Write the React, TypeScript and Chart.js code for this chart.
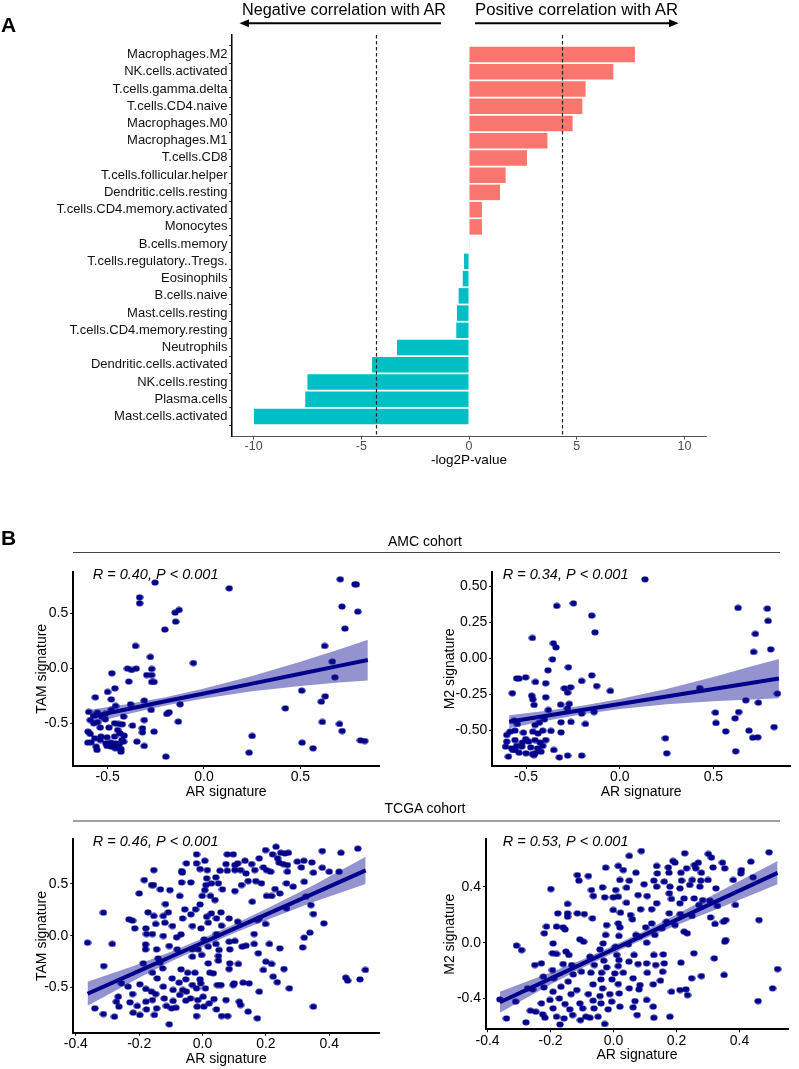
import React, { useEffect, useRef } from "react";
import { Chart, registerables } from "chart.js";

Chart.register(...registerables);

// ---------------- Panel A data ----------------
const cellTypes = [
  "Macrophages.M2", "NK.cells.activated", "T.cells.gamma.delta", "T.cells.CD4.naive",
  "Macrophages.M0", "Macrophages.M1", "T.cells.CD8", "T.cells.follicular.helper",
  "Dendritic.cells.resting", "T.cells.CD4.memory.activated", "Monocytes", "B.cells.memory",
  "T.cells.regulatory..Tregs.", "Eosinophils", "B.cells.naive", "Mast.cells.resting",
  "T.cells.CD4.memory.resting", "Neutrophils", "Dendritic.cells.activated", "NK.cells.resting",
  "Plasma.cells", "Mast.cells.activated",
];
const log2P = [
  7.7, 6.7, 5.41, 5.26, 4.81, 3.64, 2.69, 1.7, 1.44, 0.6, 0.6, 0.03,
  -0.23, -0.29, -0.48, -0.56, -0.59, -3.34, -4.5, -7.5, -7.6, -9.98,
];
const thresholds = [-4.32, 4.32];
const barTicks = [-10, -5, 0, 5, 10];
const barTickLabels = ["-10", "-5", "0", "5", "10"];

// ---------------- Panel B data ----------------
const amcTamPoints: [number, number][] = [
  [-0.254, 0.779], [0.131, 0.727], [0.707, 0.809], [0.783, 0.764], [0.79, 0.762],
  [-0.334, 0.645], [-0.334, 0.591], [-0.15, 0.506], [-0.129, 0.53], [-0.147, 0.424], [-0.203, 0.352],
  [0.716, 0.561], [0.798, 0.515], [0.731, 0.361], [-0.355, 0.203], [0.626, 0.203], [-0.278, 0.103],
  [-0.055, 0.048], [0.666, 0.061], [-0.478, -0.045], [-0.397, -0.003], [-0.376, -0.015], [-0.352, -0.003],
  [-0.271, -0.006], [-0.297, -0.061], [-0.271, -0.061], [0.679, -0.082], [-0.39, -0.121], [-0.271, -0.124],
  [-0.259, -0.124], [-0.462, -0.182], [-0.5, -0.215], [0.507, -0.203], [0.629, -0.255], [-0.481, -0.282],
  [-0.564, -0.264], [-0.459, -0.342], [-0.381, -0.327], [-0.31, -0.294], [-0.124, -0.327], [0.422, -0.364],
  [0.609, -0.303], [-0.598, -0.397], [-0.553, -0.403], [-0.481, -0.379], [-0.417, -0.439], [-0.274, -0.379],
  [-0.193, -0.415], [-0.181, -0.4], [-0.567, -0.43], [-0.59, -0.47], [-0.552, -0.49], [-0.53, -0.44],
  [-0.512, -0.464], [-0.464, -0.5], [-0.443, -0.506], [-0.424, -0.509], [-0.371, -0.521], [-0.31, -0.47],
  [-0.133, -0.485], [0.614, -0.488], [0.703, -0.506], [0.717, -0.57], [-0.602, -0.576], [-0.59, -0.597],
  [-0.538, -0.539], [-0.493, -0.539], [-0.448, -0.561], [-0.436, -0.591], [-0.414, -0.612], [-0.319, -0.545],
  [-0.319, -0.582], [-0.259, -0.576], [0.25, -0.615], [-0.567, -0.636], [-0.534, -0.621], [-0.503, -0.627],
  [-0.464, -0.621], [-0.426, -0.652], [-0.348, -0.667], [-0.603, -0.676], [-0.586, -0.673], [-0.559, -0.712],
  [-0.509, -0.682], [-0.483, -0.676], [-0.457, -0.682], [-0.44, -0.691], [-0.417, -0.667], [-0.503, -0.706],
  [-0.481, -0.712], [-0.46, -0.727], [-0.431, -0.733], [-0.555, -0.742], [-0.431, -0.758], [-0.31, -0.706],
  [0.509, -0.676], [0.566, -0.727], [0.812, -0.655], [0.834, -0.661], [0.234, -0.767], [-0.198, -0.803],
  [-0.572, -0.5], [-0.538, -0.652], [-0.512, -0.415],
];
const amcFitX = [-0.59, -0.4, -0.2, 0, 0.25, 0.5, 0.7, 0.85];
const amcTamFit = [-0.44, -0.372, -0.3, -0.229, -0.139, -0.05, 0.022, 0.075];
const amcTamLo = [-0.503, -0.417, -0.338, -0.274, -0.209, -0.16, -0.128, -0.11];
const amcTamHi = [-0.377, -0.327, -0.262, -0.184, -0.069, 0.06, 0.172, 0.26];

const amcM2Points: [number, number][] = [
  [0.135, 0.547], [-0.336, 0.363], [-0.247, 0.381], [0.632, 0.349], [0.788, 0.344], [-0.149, 0.296],
  [0.792, 0.259], [-0.132, 0.18], [0.724, 0.169], [-0.466, 0.141], [-0.354, 0.104], [-0.34, 0.076],
  [0.715, 0.044], [0.806, 0.062], [-0.359, -0.007], [-0.274, -0.062], [-0.383, -0.083], [-0.55, -0.139],
  [-0.537, -0.141], [-0.502, -0.132], [-0.45, -0.164], [-0.395, -0.173], [-0.203, -0.157], [-0.149, -0.118],
  [-0.123, -0.192], [-0.295, -0.208], [-0.262, -0.201], [-0.05, -0.226], [0.427, -0.206], [-0.573, -0.242],
  [-0.47, -0.259], [-0.464, -0.284], [-0.395, -0.27], [-0.278, -0.238], [0.842, -0.245], [-0.457, -0.323],
  [-0.269, -0.316], [-0.315, -0.321], [0.673, -0.291], [0.74, -0.307], [-0.381, -0.358], [-0.279, -0.346],
  [-0.137, -0.372], [-0.203, -0.383], [0.511, -0.376], [0.635, -0.372], [-0.564, -0.432], [-0.546, -0.455],
  [-0.452, -0.462], [-0.429, -0.446], [-0.402, -0.423], [-0.313, -0.443], [-0.26, -0.441], [-0.183, -0.455],
  [0.514, -0.448], [0.616, -0.416], [-0.603, -0.531], [-0.585, -0.508], [-0.559, -0.501], [-0.514, -0.515],
  [-0.464, -0.508], [-0.436, -0.52], [-0.411, -0.501], [-0.367, -0.503], [-0.313, -0.513], [0.566, -0.506],
  [0.824, -0.476], [0.69, -0.501], [-0.603, -0.577], [-0.559, -0.566], [-0.52, -0.584], [-0.502, -0.559],
  [-0.486, -0.577], [-0.452, -0.566], [-0.425, -0.584], [-0.395, -0.566], [-0.609, -0.612], [-0.577, -0.624],
  [-0.55, -0.607], [-0.523, -0.612], [-0.475, -0.617], [-0.438, -0.624], [-0.411, -0.607], [-0.571, -0.635],
  [-0.537, -0.654], [-0.5, -0.658], [-0.466, -0.663], [-0.452, -0.658], [-0.42, -0.647], [-0.594, -0.681],
  [-0.559, -0.635], [-0.352, -0.635], [-0.457, -0.67], [-0.322, -0.686], [-0.278, -0.674], [-0.203, -0.674],
  [0.244, -0.554], [0.251, -0.658], [0.619, -0.644], [0.737, -0.547], [0.71, -0.55],
];
const amcM2Fit = [-0.44, -0.4, -0.358, -0.317, -0.265, -0.213, -0.171, -0.14];
const amcM2Lo = [-0.485, -0.435, -0.387, -0.352, -0.318, -0.297, -0.286, -0.277];
const amcM2Hi = [-0.395, -0.365, -0.329, -0.282, -0.212, -0.129, -0.056, -0.005];

const tcgaTamPoints: [number, number][] = [
  [0.232, 0.858], [0.49, 0.84], [0.199, 0.826], [0.378, 0.817], [0.437, 0.8], [-0.019, 0.785], [0.078, 0.785],
  [0.097, 0.785], [0.221, 0.785], [0.247, 0.8], [0.26, 0.794], [0.271, 0.8], [0.179, 0.746], [0.007, 0.723],
  [0.134, 0.723], [0.237, 0.746], [0.299, 0.714], [0.32, 0.723], [0.345, 0.707], [-0.051, 0.698], [-0.019, 0.698],
  [0.074, 0.691], [0.102, 0.682], [0.111, 0.698], [0.155, 0.691], [0.242, 0.704], [0.255, 0.691], [0.268, 0.682],
  [-0.008, 0.643], [0.015, 0.633], [0.102, 0.633], [0.12, 0.633], [0.165, 0.633], [0.192, 0.659], [0.202, 0.633],
  [0.312, 0.659], [0.378, 0.656], [-0.154, 0.633], [-0.066, 0.624], [-0.064, 0.608], [0.055, 0.627], [0.078, 0.627],
  [0.137, 0.601], [0.215, 0.617], [0.268, 0.617], [0.35, 0.608], [0.4, 0.617], [0.431, 0.617], [0.042, 0.563],
  [0.013, 0.553], [-0.066, 0.514], [-0.037, 0.514], [0.028, 0.505], [0.05, 0.505], [0.144, 0.527], [0.168, 0.527],
  [0.186, 0.505], [0.265, 0.505], [0.286, 0.473], [0.321, 0.521], [-0.184, 0.537], [-0.161, 0.489], [-0.155, 0.489],
  [0.011, 0.489], [0.123, 0.489], [0.063, 0.447], [0.007, 0.44], [-0.133, 0.447], [-0.103, 0.44], [-0.2, 0.408],
  [-0.001, 0.383], [0.025, 0.383], [0.102, 0.431], [0.229, 0.45], [0.202, 0.383], [0.218, 0.383], [0.244, 0.408],
  [0.326, 0.376], [0.342, 0.296], [-0.072, 0.383], [0.039, 0.344], [0.157, 0.328], [-0.117, 0.305], [-0.008, 0.302],
  [-0.056, 0.254], [-0.172, 0.225], [-0.313, 0.222], [-0.108, 0.225], [-0.022, 0.254], [0.058, 0.225], [0.028, 0.215],
  [0.265, 0.264], [0.35, 0.209], [-0.232, 0.158], [-0.221, 0.145], [-0.154, 0.19], [-0.124, 0.19], [-0.063, 0.167],
  [-0.037, 0.206], [0.013, 0.183], [0.084, 0.167], [0.179, 0.167], [0.044, 0.167], [0.018, 0.125], [-0.148, 0.113],
  [-0.119, 0.125], [-0.095, 0.093], [-0.032, 0.093], [0.06, 0.096], [0.111, 0.135], [0.199, 0.113], [0.173, 0.151],
  [0.383, 0.119], [-0.214, 0.071], [-0.179, 0.071], [-0.005, 0.071], [-0.177, 0.016], [-0.158, 0.016], [-0.124, -0.003],
  [-0.068, 0.013], [0.044, 0.016], [0.163, 0.016], [0.339, 0.029], [0.321, -0.019], [-0.363, -0.068], [-0.285, -0.08],
  [-0.18, -0.084], [-0.082, -0.016], [0.005, -0.035], [0.084, -0.058], [0.102, -0.051], [0.137, -0.096], [0.163, -0.08],
  [0.211, -0.08], [0.244, -0.122], [0.316, -0.113], [-0.18, -0.132], [-0.145, -0.132], [-0.105, -0.1], [-0.08, -0.132],
  [-0.032, -0.132], [-0.014, -0.132], [0.018, -0.106], [0.042, -0.08], [0.052, -0.138], [0.086, -0.132], [0.125, -0.106],
  [-0.032, -0.203], [-0.003, -0.186], [0.05, -0.196], [0.176, -0.17], [-0.14, -0.219], [-0.312, -0.293], [-0.187, -0.267],
  [-0.135, -0.26], [0.018, -0.267], [0.05, -0.241], [0.086, -0.267], [0.113, -0.273], [0.2, -0.251], [0.218, -0.273],
  [-0.126, -0.315], [-0.068, -0.325], [-0.158, -0.357], [-0.047, -0.357], [-0.024, -0.357], [0.023, -0.357], [0.084, -0.322],
  [0.192, -0.331], [0.257, -0.322], [-0.143, -0.412], [-0.096, -0.412], [-0.053, -0.421], [-0.008, -0.421], [0.034, -0.363],
  [0.223, -0.395], [0.236, -0.449], [-0.235, -0.492], [-0.198, -0.469], [-0.074, -0.453], [-0.032, -0.476], [-0.006, -0.46],
  [0.047, -0.476], [0.058, -0.476], [0.1, -0.46], [0.128, -0.453], [0.147, -0.46], [0.274, -0.508], [0.452, -0.405],
  [0.458, -0.434], [0.497, -0.421], [0.514, -0.331], [-0.256, -0.46], [-0.179, -0.514], [-0.161, -0.54], [-0.124, -0.492],
  [-0.093, -0.524], [-0.063, -0.524], [-0.051, -0.54], [-0.019, -0.508], [0.009, -0.508], [0.097, -0.476], [0.179, -0.54],
  [-0.266, -0.588], [-0.221, -0.563], [-0.148, -0.563], [-0.121, -0.605], [-0.072, -0.572], [-0.038, -0.605], [0.002, -0.588],
  [0.036, -0.611], [0.074, -0.621], [0.116, -0.637], [-0.272, -0.637], [-0.229, -0.643], [-0.179, -0.637], [-0.158, -0.621],
  [-0.093, -0.63], [-0.053, -0.627], [-0.015, -0.621], [0.021, -0.653], [0.12, -0.669], [0.35, -0.685], [-0.34, -0.701],
  [-0.264, -0.685], [-0.206, -0.678], [-0.177, -0.711], [-0.145, -0.701], [-0.114, -0.678], [-0.084, -0.695], [-0.017, -0.685],
  [0.004, -0.685], [0.044, -0.711], [-0.219, -0.743], [-0.198, -0.765], [-0.152, -0.765], [-0.098, -0.701], [0.144, -0.733],
  [-0.313, -0.756], [-0.278, -0.781], [-0.019, -0.775], [0.06, -0.775], [0.079, -0.775], [0.173, -0.797], [-0.105, -0.855],
];
const tcgaTamFitX = [-0.363, -0.2, -0.1, 0, 0.1, 0.2, 0.35, 0.515];
const tcgaTamFit = [-0.56, -0.339, -0.203, -0.068, 0.068, 0.203, 0.406, 0.63];
const tcgaTamLo = [-0.675, -0.405, -0.25, -0.108, 0.025, 0.148, 0.325, 0.498];
const tcgaTamHi = [-0.444, -0.273, -0.156, -0.028, 0.111, 0.258, 0.487, 0.762];

const tcgaM2Points: [number, number][] = [
  [0.088, 0.656], [0.226, 0.64], [0.494, 0.647], [0.301, 0.635], [0.311, 0.609], [0.05, 0.621], [0.436, 0.58],
  [0.189, 0.585], [0.195, 0.573], [0.269, 0.573], [0.346, 0.573], [0.015, 0.549], [-0.025, 0.537], [0.137, 0.549],
  [0.174, 0.539], [0.232, 0.532], [0.257, 0.556], [0.261, 0.532], [0.316, 0.539], [0.353, 0.532], [0.406, 0.52],
  [0.031, 0.52], [0.071, 0.501], [0.139, 0.496], [-0.115, 0.484], [-0.08, 0.477], [0.176, 0.501], [0.214, 0.501],
  [0.279, 0.501], [0.404, 0.496], [0.443, 0.468], [-0.11, 0.444], [0.02, 0.449], [0.05, 0.444], [0.128, 0.444],
  [0.161, 0.437], [0.216, 0.444], [0.25, 0.449], [0.277, 0.444], [0.3, 0.449], [0.38, 0.449], [0.097, 0.418],
  [0.137, 0.401], [0.179, 0.401], [0.211, 0.389], [0.242, 0.413], [0.274, 0.401], [0.325, 0.389], [-0.199, 0.384],
  [-0.07, 0.377], [-0.035, 0.396], [0.007, 0.377], [0.041, 0.394], [-0.064, 0.334], [-0.028, 0.325], [-0.001, 0.325],
  [0.015, 0.329], [0.078, 0.341], [0.107, 0.334], [0.177, 0.353], [0.184, 0.313], [0.224, 0.317], [0.256, 0.317],
  [0.283, 0.305], [0.306, 0.301], [-0.146, 0.277], [0.041, 0.286], [0.137, 0.282], [0.211, 0.282], [0.271, 0.27],
  [0.387, 0.27], [0.33, 0.263], [-0.177, 0.21], [-0.146, 0.21], [-0.115, 0.21], [-0.093, 0.205], [-0.001, 0.234],
  [0.022, 0.215], [0.054, 0.198], [0.086, 0.239], [0.121, 0.239], [0.177, 0.21], [0.212, 0.205], [0.249, 0.191],
  [0.308, 0.181], [0.356, 0.162], [0.462, 0.162], [-0.146, 0.186], [-0.067, 0.174], [0.06, 0.167], [0.121, 0.138],
  [0.168, 0.15], [0.195, 0.126], [0.322, 0.134], [0.349, 0.15], [-0.213, 0.115], [-0.181, 0.115], [-0.16, 0.11],
  [-0.022, 0.126], [0.015, 0.138], [0.02, 0.11], [0.102, 0.11], [0.154, 0.103], [0.224, 0.079], [-0.22, 0.067],
  [-0.154, 0.095], [-0.025, 0.055], [0.017, 0.048], [0.071, 0.055], [0.081, 0.043], [0.131, 0.055], [0.234, 0.067],
  [-0.107, 0.024], [-0.192, -0.005], [-0.095, 0.007], [-0.033, -0.005], [0.105, 0], [0.353, 0.007], [0.356, 0.019],
  [-0.308, -0.021], [-0.292, -0.053], [-0.194, -0.076], [-0.181, -0.081], [-0.151, -0.064], [-0.043, -0.048], [0.006, -0.029],
  [0.047, -0.012], [0.01, -0.088], [0.065, -0.088], [0.128, -0.088], [0.158, -0.084], [0.255, -0.076], [0.32, -0.112],
  [-0.142, -0.088], [-0.075, -0.1], [-0.031, -0.129], [0.017, -0.124], [0.049, -0.136], [0.105, -0.148], [0.214, -0.143],
  [-0.25, -0.16], [-0.229, -0.148], [-0.16, -0.153], [-0.133, -0.16], [-0.061, -0.16], [-0.022, -0.177], [0.015, -0.167],
  [0.078, -0.153], [0.134, -0.16], [0.161, -0.148], [-0.194, -0.196], [-0.102, -0.208], [-0.072, -0.215], [-0.038, -0.215],
  [0.004, -0.22], [0.031, -0.215], [0.107, -0.215], [0.156, -0.208], [0.279, -0.239], [0.351, -0.231], [-0.223, -0.243],
  [-0.19, -0.255], [-0.128, -0.227], [-0.04, -0.263], [-0.005, -0.263], [0.062, -0.255], [0.149, -0.272], [0.248, -0.255],
  [-0.144, -0.279], [-0.065, -0.298], [0.015, -0.296], [0.084, -0.303], [0.126, -0.298], [-0.273, -0.327], [-0.257, -0.334],
  [-0.221, -0.32], [-0.167, -0.315], [-0.117, -0.339], [-0.035, -0.327], [0.05, -0.327], [0.081, -0.334], [0.211, -0.339],
  [0.23, -0.334], [0.235, -0.375], [0.184, -0.351], [0.505, -0.327], [0.521, -0.189], [-0.361, -0.406], [-0.311, -0.422],
  [-0.192, -0.351], [-0.135, -0.368], [-0.08, -0.368], [-0.043, -0.382], [-0.012, -0.368], [0.018, -0.363], [0.105, -0.41],
  [0.459, -0.418], [-0.229, -0.434], [-0.202, -0.41], [-0.172, -0.399], [-0.154, -0.439], [-0.107, -0.434], [-0.065, -0.415],
  [-0.04, -0.434], [-0.006, -0.422], [0.068, -0.418], [-0.264, -0.487], [-0.247, -0.494], [-0.192, -0.47], [-0.139, -0.477],
  [-0.098, -0.47], [-0.062, -0.47], [-0.017, -0.477], [0.02, -0.458], [0.062, -0.463], [0.126, -0.458], [-0.225, -0.513],
  [-0.181, -0.53], [-0.13, -0.518], [-0.088, -0.53], [-0.049, -0.53], [0.075, -0.518], [0.179, -0.53], [0.128, -0.537],
  [-0.34, -0.542], [-0.278, -0.57], [-0.218, -0.537], [-0.157, -0.542], [-0.17, -0.585], [-0.075, -0.537], [-0.028, -0.582],
  [-0.105, -0.554],
];
const tcgaM2FitX = [-0.361, -0.2, -0.1, 0, 0.1, 0.2, 0.35, 0.521];
const tcgaM2Fit = [-0.426, -0.257, -0.152, -0.047, 0.058, 0.163, 0.321, 0.5];
const tcgaM2Lo = [-0.501, -0.3, -0.182, -0.073, 0.03, 0.125, 0.26, 0.418];
const tcgaM2Hi = [-0.351, -0.214, -0.122, -0.021, 0.086, 0.201, 0.382, 0.585];

const amcXTicks = [-0.5, 0, 0.5];
const amcXTickLabels = ["-0.5", "0.0", "0.5"];
const amcTamYTicks = [-0.5, 0, 0.5];
const amcTamYTickLabels = ["-0.5", "0.0", "0.5"];
const amcM2YTicks = [-0.5, -0.25, 0, 0.25, 0.5];
const amcM2YTickLabels = ["-0.50", "-0.25", "0.00", "0.25", "0.50"];
const tcgaXTicks = [-0.4, -0.2, 0, 0.2, 0.4];
const tcgaXTickLabels = ["-0.4", "-0.2", "0.0", "0.2", "0.4"];
const tcgaTamYTicks = [-0.5, 0, 0.5];
const tcgaTamYTickLabels = ["-0.5", "0.0", "0.5"];
const tcgaM2YTicks = [-0.4, 0, 0.4];
const tcgaM2YTickLabels = ["-0.4", "0.0", "0.4"];

const SANS = '"Liberation Sans", Arial, Helvetica, sans-serif';
const POS_COLOR = "#F8766D";
const NEG_COLOR = "#00BFC4";
const DOT_COLOR = "#00008B";
const BAND_COLOR = "rgba(20,20,150,0.46)";

// ---------------- Panel A chart ----------------
function BarPanel() {
  const ref = useRef<HTMLCanvasElement | null>(null);
  const W = 720, H = 480;
  const area = { l: 232, t: 35, r: 706, b: 436 };
  useEffect(() => {
    const extras = {
      id: "barExtras",
      afterDatasetsDraw(chart: any) {
        const { ctx, chartArea: a, scales } = chart;
        ctx.save();
        ctx.strokeStyle = "#222";
        ctx.lineWidth = 1.2;
        ctx.setLineDash([3.5, 2.5]);
        thresholds.forEach((t) => {
          const x = Math.round(scales.x.getPixelForValue(t)) + 0.5;
          ctx.beginPath();
          ctx.moveTo(x, a.top);
          ctx.lineTo(x, a.bottom);
          ctx.stroke();
        });
        ctx.restore();
      },
      afterDraw(chart: any) {
        const { ctx, chartArea: a } = chart;
        ctx.save();
        ctx.fillStyle = "#000";
        ctx.font = `13.5px ${SANS}`;
        ctx.textAlign = "center";
        ctx.textBaseline = "middle";
        ctx.fillText("-log2P-value", (a.left + a.right) / 2, 460);
        ctx.restore();
      },
    };
    const chart = new Chart(ref.current as HTMLCanvasElement, {
      type: "bar",
      data: {
        datasets: [
          {
            data: log2P.map((v, i) => ({ x: v, y: i })) as any,
            backgroundColor: log2P.map((v) => (v > 0 ? POS_COLOR : NEG_COLOR)),
            borderWidth: 0,
            barPercentage: 0.9,
            categoryPercentage: 1,
          },
        ],
      },
      options: {
        indexAxis: "y",
        animation: false,
        responsive: false,
        maintainAspectRatio: false,
        layout: { padding: { top: area.t, right: W - area.r, left: 0, bottom: 0 } },
        plugins: { legend: { display: false }, tooltip: { enabled: false } },
        scales: {
          x: {
            type: "linear",
            min: -11,
            max: 11,
            afterFit: (s: any) => {
              s.height = H - area.b;
            },
            afterBuildTicks: (s: any) => {
              s.ticks = barTicks.map((v) => ({ value: v }));
            },
            ticks: {
              callback: (v: any) => barTickLabels[barTicks.indexOf(Number(v))],
              font: { family: SANS, size: 12.5 },
              color: "#4D4D4D",
              padding: 0,
              maxRotation: 0,
              autoSkip: false,
            },
            grid: { display: true, drawOnChartArea: false, drawTicks: true, tickLength: 3.5, color: "#555" },
            border: { display: true, color: "#555", width: 1 },
          },
          y: {
            type: "linear",
            min: -0.6,
            max: cellTypes.length - 1 + 0.6,
            reverse: true,
            afterFit: (s: any) => {
              s.width = area.l;
            },
            afterBuildTicks: (s: any) => {
              s.ticks = cellTypes.map((_, i) => ({ value: i }));
            },
            ticks: {
              callback: (v: any) => cellTypes[Number(v)],
              font: { family: SANS, size: 13 },
              color: "#111",
              padding: 1.5,
              autoSkip: false,
            },
            grid: { display: true, drawOnChartArea: false, drawTicks: true, tickLength: 3, color: "#333" },
            border: { display: true, color: "#000", width: 1.5 },
          },
        },
      } as any,
      plugins: [extras],
    });
    return () => chart.destroy();
  }, []);
  return (
    <canvas
      ref={ref}
      width={W}
      height={H}
      style={{ position: "absolute", left: 0, top: 0, width: W, height: H }}
    />
  );
}

// ---------------- Panel B scatter ----------------
type ScatterProps = {
  left: number;
  top: number;
  width: number;
  height: number;
  area: { l: number; t: number; r: number; b: number };
  xRange: [number, number];
  yRange: [number, number];
  xTicks: number[];
  xTickLabels: string[];
  yTicks: number[];
  yTickLabels: string[];
  points: [number, number][];
  fitX: number[];
  fit: number[];
  lo: number[];
  hi: number[];
  stat: string;
  statX: number;
  xTitle: string;
  yTitle: string;
  yTitleX: number;
};

function ScatterPanel(p: ScatterProps) {
  const ref = useRef<HTMLCanvasElement | null>(null);
  useEffect(() => {
    const dot = document.createElement("canvas");
    dot.width = 8;
    dot.height = 7;
    const dctx = dot.getContext("2d") as CanvasRenderingContext2D;
    dctx.fillStyle = DOT_COLOR;
    dctx.beginPath();
    dctx.ellipse(4, 3.5, 3.6, 2.95, 0, 0, Math.PI * 2);
    dctx.fill();

    const textPlugin = {
      id: "scatterText",
      afterDraw(chart: any) {
        const { ctx, chartArea: a } = chart;
        ctx.save();
        ctx.fillStyle = "#000";
        ctx.textBaseline = "middle";
        ctx.textAlign = "left";
        ctx.font = `italic 14.5px ${SANS}`;
        ctx.fillText(p.stat, p.statX - p.left, a.top + 3);
        ctx.font = `14px ${SANS}`;
        ctx.textAlign = "center";
        ctx.fillText(p.xTitle, (a.left + a.right) / 2, a.bottom + 26);
        ctx.translate(p.yTitleX - p.left, (a.top + a.bottom) / 2);
        ctx.rotate(-Math.PI / 2);
        ctx.fillText(p.yTitle, 0, 0);
        ctx.restore();
      },
    };

    const axisCommon = {
      type: "linear",
      grid: { display: true, drawOnChartArea: false, drawTicks: true, tickLength: 3, color: "#000", lineWidth: 1 },
      border: { display: true, color: "#000", width: 2 },
    };

    const chart = new Chart(ref.current as HTMLCanvasElement, {
      type: "scatter",
      data: {
        datasets: [
          {
            type: "line",
            data: p.fitX.map((x, i) => ({ x, y: p.hi[i] })),
            borderWidth: 0,
            borderColor: "rgba(0,0,0,0)",
            pointRadius: 0,
            fill: false,
            order: 2,
          },
          {
            type: "line",
            data: p.fitX.map((x, i) => ({ x, y: p.lo[i] })),
            borderWidth: 0,
            borderColor: "rgba(0,0,0,0)",
            pointRadius: 0,
            fill: "-1",
            backgroundColor: BAND_COLOR,
            order: 2,
          },
          {
            type: "line",
            data: p.fitX.map((x, i) => ({ x, y: p.fit[i] })),
            borderColor: DOT_COLOR,
            borderWidth: 4,
            pointRadius: 0,
            fill: false,
            order: 1,
          },
          {
            type: "scatter",
            data: p.points.map(([x, y]) => ({ x, y })),
            pointStyle: dot,
            pointRadius: 3.5,
            backgroundColor: DOT_COLOR,
            borderWidth: 0,
            order: 3,
          },
        ],
      } as any,
      options: {
        animation: false,
        responsive: false,
        maintainAspectRatio: false,
        layout: {
          padding: { top: p.area.t - p.top, right: p.left + p.width - p.area.r, left: 0, bottom: 0 },
        },
        plugins: { legend: { display: false }, tooltip: { enabled: false } },
        scales: {
          x: {
            ...axisCommon,
            min: p.xRange[0],
            max: p.xRange[1],
            afterFit: (s: any) => {
              s.height = p.top + p.height - p.area.b;
            },
            afterBuildTicks: (s: any) => {
              s.ticks = p.xTicks.map((v) => ({ value: v }));
            },
            ticks: {
              callback: (v: any) => p.xTickLabels[p.xTicks.indexOf(Number(v))],
              font: { family: SANS, size: 14 },
              color: "#000",
              padding: 0,
              maxRotation: 0,
              autoSkip: false,
            },
          },
          y: {
            ...axisCommon,
            min: p.yRange[0],
            max: p.yRange[1],
            afterFit: (s: any) => {
              s.width = p.area.l - p.left;
            },
            afterBuildTicks: (s: any) => {
              s.ticks = p.yTicks.map((v) => ({ value: v }));
            },
            ticks: {
              callback: (v: any) => p.yTickLabels[p.yTicks.indexOf(Number(v))],
              font: { family: SANS, size: 14 },
              color: "#000",
              padding: 2,
              autoSkip: false,
            },
          },
        },
      } as any,
      plugins: [textPlugin],
    });
    return () => chart.destroy();
  }, []);
  return (
    <canvas
      ref={ref}
      width={p.width}
      height={p.height}
      style={{ position: "absolute", left: p.left, top: p.top, width: p.width, height: p.height }}
    />
  );
}

function Decorations() {
  const font = SANS;
  return (
    <svg
      width={799}
      height={1069}
      style={{ position: "absolute", left: 0, top: 0, pointerEvents: "none" }}
    >
      <text x={1} y={31.5} fontFamily={font} fontWeight="bold" fontSize={21} fill="#000">A</text>
      <text x={242} y={15} fontFamily={font} fontSize={16} fill="#000" textLength={204} lengthAdjust="spacingAndGlyphs">
        Negative correlation with AR
      </text>
      <text x={475} y={15} fontFamily={font} fontSize={16} fill="#000" textLength={203} lengthAdjust="spacingAndGlyphs">
        Positive correlation with AR
      </text>
      <line x1={246} y1={23.3} x2={441} y2={23.3} stroke="#000" strokeWidth={2} />
      <polygon points="239.5,23.3 249,19.3 249,27.3" fill="#000" />
      <line x1={475} y1={23.3} x2={672} y2={23.3} stroke="#000" strokeWidth={2} />
      <polygon points="678.5,23.3 669,19.3 669,27.3" fill="#000" />

      <text x={1} y={545} fontFamily={font} fontWeight="bold" fontSize={21} fill="#000">B</text>
      <text x={425} y={546} textAnchor="middle" fontFamily={font} fontSize={14} fill="#000">AMC cohort</text>
      <line x1={73} y1={552.5} x2={780} y2={552.5} stroke="#444" strokeWidth={1.2} />
      <text x={425} y={813} textAnchor="middle" fontFamily={font} fontSize={14} fill="#000">TCGA cohort</text>
      <line x1={73} y1={821} x2={780} y2={821} stroke="#444" strokeWidth={1.2} />
    </svg>
  );
}

export default function App() {
  return (
    <div
      style={{
        position: "absolute",
        left: 0,
        top: 0,
        width: 799,
        height: 1069,
        background: "#fff",
        overflow: "hidden",
      }}
    >
      <BarPanel />
      <ScatterPanel
        left={0}
        top={555}
        width={395}
        height={250}
        area={{ l: 73.3, t: 571.7, r: 379, b: 766 }}
        xRange={[-0.678, 0.908]}
        yRange={[-0.888, 0.878]}
        xTicks={amcXTicks}
        xTickLabels={amcXTickLabels}
        yTicks={amcTamYTicks}
        yTickLabels={amcTamYTickLabels}
        points={amcTamPoints}
        fitX={amcFitX}
        fit={amcTamFit}
        lo={amcTamLo}
        hi={amcTamHi}
        stat="R = 0.40, P < 0.001"
        statX={92.7}
        xTitle="AR signature"
        yTitle="TAM signature"
        yTitleX={41.7}
      />
      <ScatterPanel
        left={400}
        top={555}
        width={399}
        height={250}
        area={{ l: 492.3, t: 571.7, r: 790, b: 766 }}
        xRange={[-0.68, 0.909]}
        yRange={[-0.746, 0.6]}
        xTicks={amcXTicks}
        xTickLabels={amcXTickLabels}
        yTicks={amcM2YTicks}
        yTickLabels={amcM2YTickLabels}
        points={amcM2Points}
        fitX={amcFitX}
        fit={amcM2Fit}
        lo={amcM2Lo}
        hi={amcM2Hi}
        stat="R = 0.34, P < 0.001"
        statX={502.7}
        xTitle="AR signature"
        yTitle="M2 signature"
        yTitleX={450}
      />
      <ScatterPanel
        left={0}
        top={825}
        width={395}
        height={244}
        area={{ l: 73.3, t: 839.3, r: 379.3, b: 1032.7 }}
        xRange={[-0.408, 0.558]}
        yRange={[-0.936, 0.93]}
        xTicks={tcgaXTicks}
        xTickLabels={tcgaXTickLabels}
        yTicks={tcgaTamYTicks}
        yTickLabels={tcgaTamYTickLabels}
        points={tcgaTamPoints}
        fitX={tcgaTamFitX}
        fit={tcgaTamFit}
        lo={tcgaTamLo}
        hi={tcgaTamHi}
        stat="R = 0.46, P < 0.001"
        statX={92.7}
        xTitle="AR signature"
        yTitle="TAM signature"
        yTitleX={41.7}
      />
      <ScatterPanel
        left={400}
        top={825}
        width={399}
        height={244}
        area={{ l: 486, t: 839.3, r: 788, b: 1029.3 }}
        xRange={[-0.405, 0.554]}
        yRange={[-0.62, 0.74]}
        xTicks={tcgaXTicks}
        xTickLabels={tcgaXTickLabels}
        yTicks={tcgaM2YTicks}
        yTickLabels={tcgaM2YTickLabels}
        points={tcgaM2Points}
        fitX={tcgaM2FitX}
        fit={tcgaM2Fit}
        lo={tcgaM2Lo}
        hi={tcgaM2Hi}
        stat="R = 0.53, P < 0.001"
        statX={502.7}
        xTitle="AR signature"
        yTitle="M2 signature"
        yTitleX={450}
      />
      <Decorations />
    </div>
  );
}
